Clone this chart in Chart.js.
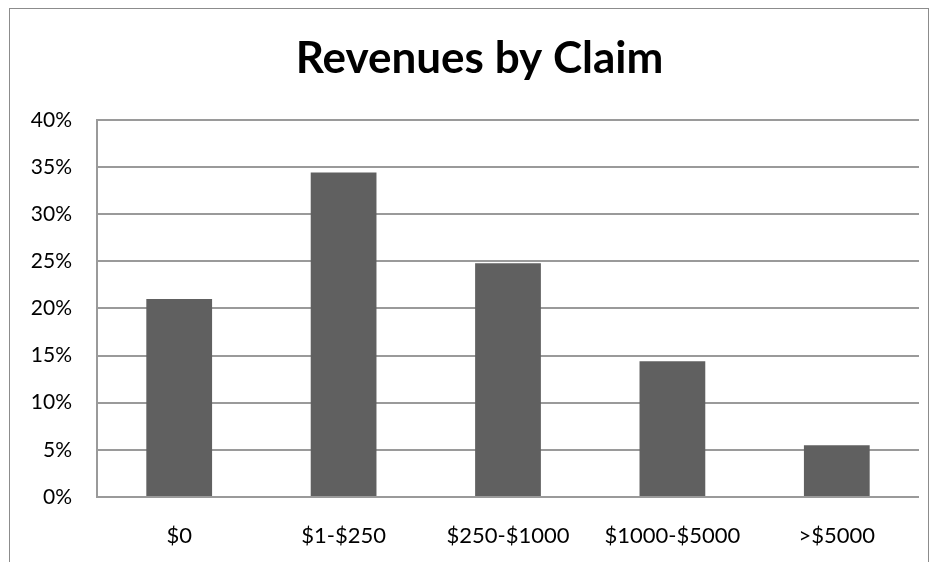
<!DOCTYPE html>
<html>
<head>
<meta charset="utf-8">
<script src="https://cdn.jsdelivr.net/npm/chart.js@4.4.0/dist/chart.umd.min.js"></script>
<style>
  body { margin: 0; background: #fff; }
  #wrap { position: relative; width: 938px; height: 562px; overflow: hidden; }
  #frame { position: absolute; left: 9px; top: 8px; width: 918px; height: 600px; border: 1px solid #8c8c8c; }
  canvas { position: absolute; left: 0; top: 0; }
</style>
</head>
<body>
<div id="wrap">
  <div id="frame"></div>
  <canvas id="revenueChart" width="938" height="562"></canvas>
</div>
<script>
const claimRanges = ['$0', '$1-$250', '$250-$1000', '$1000-$5000', '>$5000'];
const revenueShare = [0.21, 0.344, 0.248, 0.144, 0.055];
const yTicks = [0, 0.05, 0.1, 0.15, 0.2, 0.25, 0.3, 0.35, 0.4];

const gridGrey = '#9a9a9a';
const fontFamily = 'Lato, "Open Sans", sans-serif';

// the original centres its title over the whole frame, not the padded box
const titleShift = {
  id: 'titleShift',
  afterLayout(chart) {
    const t = chart.titleBlock;
    t.left = 40;
    t.width = t.right - t.left;
  }
};

const ctx = document.getElementById('revenueChart').getContext('2d');
new Chart(ctx, {
  type: 'bar',
  data: {
    labels: claimRanges,
    datasets: [{
      label: 'Revenues',
      data: revenueShare,
      backgroundColor: '#606060',
      borderWidth: 0,
      barPercentage: 0.4,
      categoryPercentage: 1
    }]
  },
  options: {
    responsive: false,
    animation: false,
    layout: { padding: { left: 0, right: 19, top: 0, bottom: 0 } },
    plugins: {
      legend: { display: false },
      tooltip: { enabled: false },
      title: {
        display: true,
        text: 'Revenues by Claim',
        color: '#000',
        font: { family: fontFamily, size: 44, weight: 'bold', lineHeight: 1.2 },
        padding: { top: 32, bottom: 35 }
      }
    },
    scales: {
      y: {
        min: 0,
        max: 0.4,
        afterBuildTicks: (scale) => { scale.ticks = yTicks.map(v => ({ value: v })); },
        afterFit: (scale) => { scale.width = 97; },
        ticks: {
          color: '#000',
          padding: 25,
          font: { family: fontFamily, size: 21 },
          callback: (v) => Math.round(v * 100) + '%'
        },
        grid: { color: gridGrey, lineWidth: 2, drawTicks: false },
        border: { display: true, color: gridGrey, width: 2 }
      },
      x: {
        afterFit: (scale) => { scale.height = 65; },
        ticks: {
          color: '#000',
          padding: 26,
          font: { family: fontFamily, size: 22 }
        },
        grid: { display: false, drawTicks: false },
        border: { display: false }
      }
    }
  },
  plugins: [titleShift]
});
</script>
</body>
</html>
